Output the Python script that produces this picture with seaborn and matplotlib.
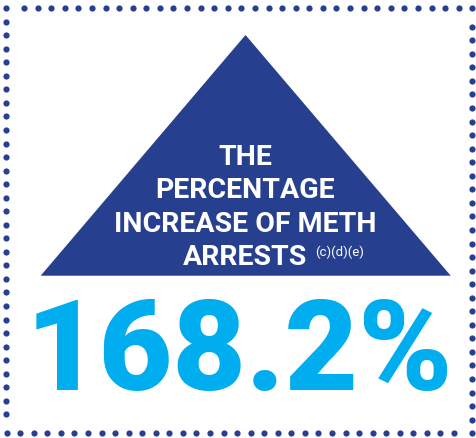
import numpy as np
import pandas as pd
import matplotlib
matplotlib.use("Agg")
import matplotlib.pyplot as plt
import seaborn as sns

# ---- content ----
headline_lines = ["THE", "PERCENTAGE", "INCREASE OF METH", "ARRESTS"]
footnote_refs = "(c)(d)(e)"
pct_increase = 168.2

NAVY = "#273F8F"
CYAN = "#00AEEF"

sns.set_theme(style="white")
plt.rcParams['font.family'] = ['Roboto', 'DejaVu Sans']

W, H = 477, 439
fig = plt.figure(figsize=(W / 100, H / 100), dpi=100)
ax = fig.add_axes([0, 0, 1, 1])
ax.set_xlim(0, W)
ax.set_ylim(H, 0)
ax.axis("off")

# dotted border (decorative frame)
top = np.concatenate([[6.3], np.linspace(24, 458.7, 33), [472.0]])
left = np.linspace(22.7, 415.3, 30)
bottom = np.concatenate([np.linspace(6.7, 454, 34), [472.3]])
right = np.linspace(27.7, 420.7, 30)
border = pd.concat([
    pd.DataFrame({"x": top, "y": 9.0}),
    pd.DataFrame({"x": 6.5, "y": left}),
    pd.DataFrame({"x": bottom, "y": 434.3}),
    pd.DataFrame({"x": 472.2, "y": right}),
], ignore_index=True)
sns.scatterplot(data=border, x="x", y="y", ax=ax, color=NAVY, s=20,
                linewidth=0, legend=False)

# triangle
ax.fill([40.7, 245.5, 450.7], [276.7, 36, 276.7], color=NAVY, lw=0)

# headline text
baselines = [165, 198.3, 231.7, 265]
for line, yb in zip(headline_lines, baselines):
    ax.text(245, yb, line, color="white", fontsize=20.5, fontweight="bold",
            ha="center", va="baseline")
ax.text(315, 256, footnote_refs, color="white", fontsize=9.5,
        ha="left", va="baseline")

# big number
ax.text(239, 390, f"{pct_increase:.1f}%", color=CYAN, fontsize=91.5,
        fontweight="black", ha="center", va="baseline")

fig.savefig("out.png", dpi=100)
